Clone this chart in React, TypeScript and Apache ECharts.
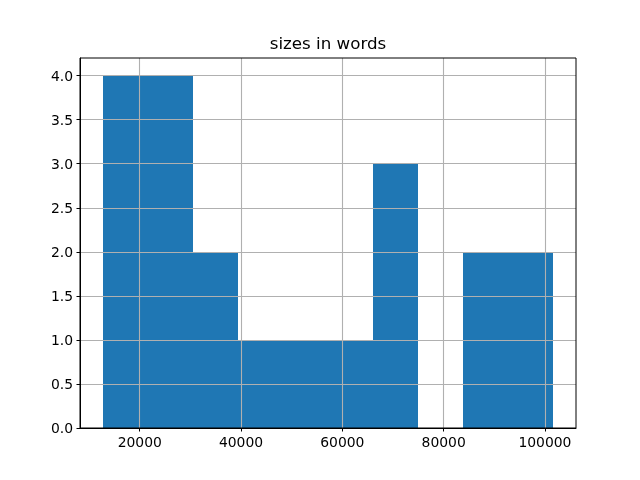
import React, { useEffect, useRef } from "react";
import * as echarts from "echarts";

const title = "sizes in words";
const binStart = 12660;
const binEnd = 101680;
const counts = [4, 4, 2, 1, 1, 1, 3, 0, 2, 2];
const xTicks = [20000, 40000, 60000, 80000, 100000];
const yTicks = [0, 0.5, 1, 1.5, 2, 2.5, 3, 3.5, 4];

export default function App() {
  const ref = useRef<HTMLDivElement>(null);
  useEffect(() => {
    const chart = echarts.init(ref.current!, null, { renderer: "svg" });
    const w = (binEnd - binStart) / counts.length;
    const data = counts.map((c, i) => [binStart + i * w, binStart + (i + 1) * w, c]);
    const span = binEnd - binStart;
    const xMin = binStart - span * 0.05;
    const xMax = binEnd + span * 0.05;
    const font = "DejaVu Sans";
    const gridMarks = [
      ...xTicks.map((v) => ({ xAxis: v })),
      ...yTicks.filter((v) => v !== 0).map((v) => ({ yAxis: v })),
    ];
    chart.setOption({
      animation: false,
      graphic: [
        {
          type: "text",
          x: 328,
          y: 43,
          style: {
            text: title,
            fontFamily: font,
            fontSize: 16.7,
            fill: "#000",
            textAlign: "center",
            textVerticalAlign: "middle",
          },
        },
      ],
      grid: {
        left: 80,
        right: 64,
        top: 58,
        bottom: 52,
        show: true,
        borderColor: "#000",
        borderWidth: 1,
        z: 10,
        backgroundColor: "transparent",
      },
      xAxis: {
        type: "value",
        min: xMin,
        max: xMax,
        z: 5,
        axisLine: { show: true, onZero: false, lineStyle: { color: "#000", width: 1 } },
        axisTick: {
          show: true,
          length: 3.5,
          inside: false,
          customValues: xTicks,
          lineStyle: { color: "#000", width: 1 },
        },
        axisLabel: {
          customValues: xTicks,
          formatter: (v: number) => String(v),
          fontFamily: font,
          fontSize: 13.9,
          color: "#000",
          margin: 7,
        },
        splitLine: { show: false },
      },
      yAxis: {
        type: "value",
        min: 0,
        max: 4.2,
        z: 5,
        axisLine: { show: true, onZero: false, lineStyle: { color: "#000", width: 1 } },
        axisTick: {
          show: true,
          length: 3.5,
          inside: false,
          customValues: yTicks,
          lineStyle: { color: "#000", width: 1 },
        },
        axisLabel: {
          customValues: yTicks,
          formatter: (v: number) => v.toFixed(1),
          fontFamily: font,
          fontSize: 13.9,
          color: "#000",
          margin: 7,
        },
        splitLine: { show: false },
      },
      series: [
        {
          type: "custom",
          z: 2,
          data,
          renderItem: (params: any, api: any) => {
            const p0 = api.coord([api.value(0), api.value(2)]);
            const p1 = api.coord([api.value(1), 0]);
            const x0 = Math.round(p0[0]);
            const x1 = Math.round(p1[0]);
            const y0 = Math.round(p0[1]);
            const y1 = Math.round(p1[1]);
            return {
              type: "rect",
              shape: { x: x0, y: y0, width: x1 - x0, height: y1 - y0 },
              style: { fill: "#1f77b4" },
            };
          },
          markLine: {
            silent: true,
            symbol: "none",
            label: { show: false },
            lineStyle: { color: "#b0b0b0", width: 1.1, type: "solid" },
            data: gridMarks,
          },
        },
      ],
    });
    return () => chart.dispose();
  }, []);
  return <div ref={ref} style={{ width: 640, height: 480, position: "fixed", left: 0, top: 0 }} />;
}
